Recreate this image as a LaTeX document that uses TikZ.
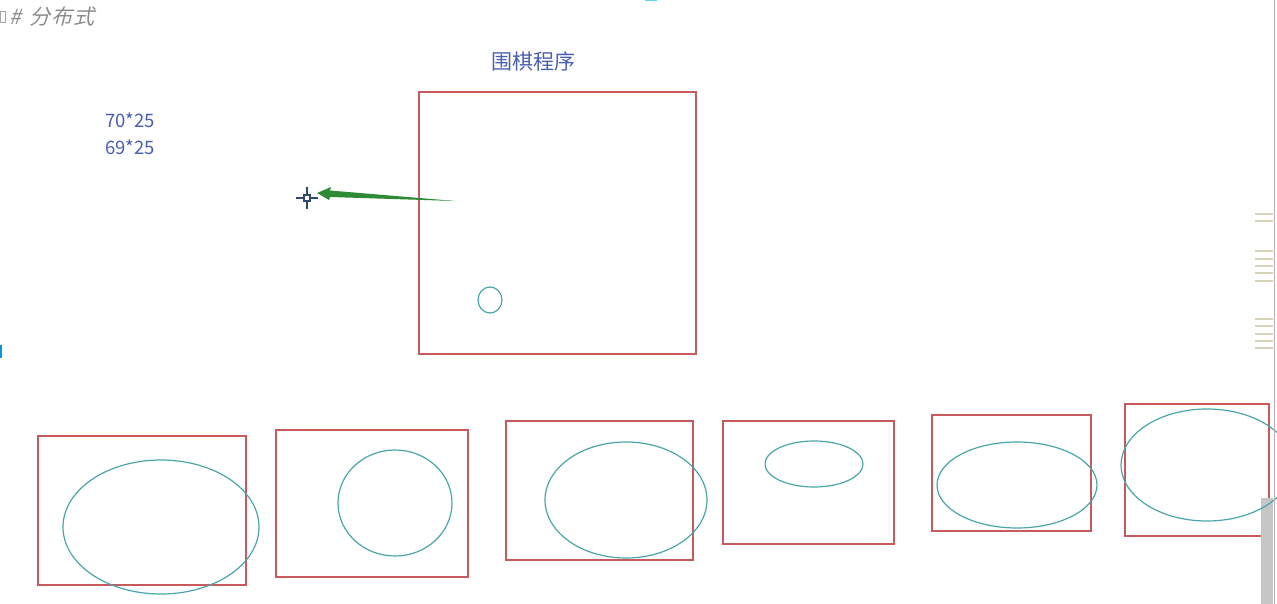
\documentclass[tikz,border=0pt]{standalone}
\usepackage{fontspec}
\newfontfamily\cjk{Noto Sans CJK SC}
\newfontfamily\cjkit[FakeSlant=0.25]{Noto Sans CJK SC}
\definecolor{boxred}{HTML}{C85A5E}
\definecolor{elteal}{HTML}{4AA6A8}
\definecolor{txtblue}{HTML}{4A5FB0}
\definecolor{arrgreen}{HTML}{2F8A35}
\definecolor{tickbeige}{HTML}{D8D2B8}
\definecolor{crossblue}{HTML}{2C4A6E}
\tikzset{
  redbox/.style={draw=boxred, line width=1.2pt},
  tealell/.style={draw=elteal, line width=1.2pt},
  bluetxt/.style={text=txtblue, font=\cjk\fontsize{18.5}{20}\selectfont, inner sep=0pt},
  tickline/.style={draw=tickbeige, line width=2.6pt},
}
\begin{document}
\begin{tikzpicture}[x=1pt,y=-1pt]
\useasboundingbox (0,0) rectangle (1277,604);
\fill[white] (0,0) rectangle (1277,604);
\begin{scope}
\clip (0,0) rectangle (1277,604);
% header
\draw[gray!70, line width=0.6pt] (0,11) rectangle (5,22);
\node[anchor=west, text=gray!90, font=\cjkit\fontsize{21}{24}\selectfont, inner sep=0pt] (hdr) at (9,17) {\#\hspace{9pt}分\hspace{1pt}布\hspace{1pt}式};
\fill[cyan!60] (645,-3) rectangle (657,1);
\fill[cyan!80!blue] (0,345) rectangle (2,358);
% title and numbers
\node[bluetxt, font=\cjk\fontsize{21}{24}\selectfont] (title) at (533,62) {围棋程序};
\node[bluetxt] (n1) at (130,120) {70*25};
\node[bluetxt] (n2) at (130,147) {69*25};
% main box
\draw[redbox] (419,92) rectangle (696,354);
\draw[tealell] (490,300) ellipse [x radius=12, y radius=13];
% green arrow
\fill[arrgreen] (317,193) -- (331,187) -- (330,190.5) -- (455,201) -- (330,197) -- (329,200) -- cycle;
% crosshair
\draw[crossblue, line width=1.3pt] (296,198) -- (303.5,198) (310.5,198) -- (318,198)
  (307,187) -- (307,194.5) (307,201.5) -- (307,209);
\draw[crossblue, line width=1.1pt] (304,195) rectangle (310,201);
% bottom boxes
\draw[redbox] (38,436) rectangle (246,585);
\draw[tealell] (161,527) ellipse [x radius=98, y radius=67];
\draw[redbox] (276,430) rectangle (468,577);
\draw[tealell] (395,503) ellipse [x radius=57, y radius=53];
\draw[redbox] (506,421) rectangle (693,560);
\draw[tealell] (626,500) ellipse [x radius=81, y radius=58];
\draw[redbox] (723,421) rectangle (894,544);
\draw[tealell] (814,464) ellipse [x radius=49, y radius=23];
\draw[redbox] (932,415) rectangle (1091,531);
\draw[tealell] (1017,485) ellipse [x radius=80, y radius=43];
\draw[redbox] (1125,404) rectangle (1269,536);
% right side ticks and scrollbar
\foreach \yy in {214,221,251,259,266,273,281,319,326,334,341,348}
  \draw[tickline] (1255,\yy) -- (1273,\yy);
\fill[gray!45] (1261,498) rectangle (1273,604);
\draw[tealell] (1207,465) ellipse [x radius=86, y radius=56];
\draw[gray!60, line width=0.8pt] (1274,0) -- (1274,604);
\end{scope}
\end{tikzpicture}
\end{document}
